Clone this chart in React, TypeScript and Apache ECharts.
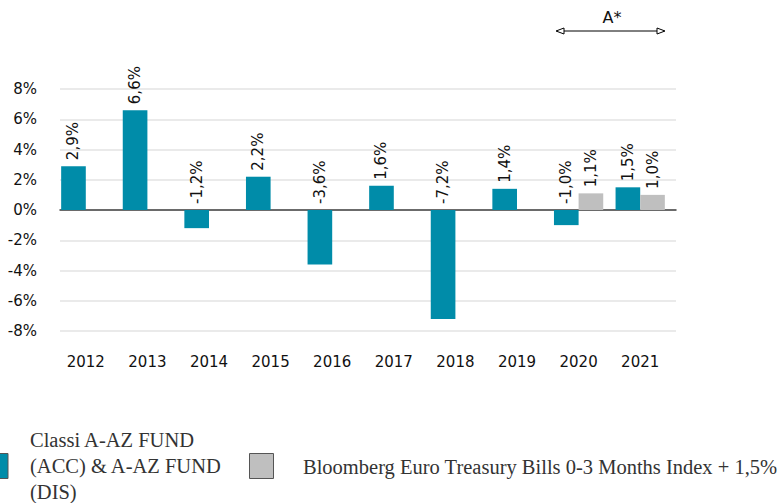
import React, { useEffect, useRef } from "react";
import * as echarts from "echarts";

const years = ["2012", "2013", "2014", "2015", "2016", "2017", "2018", "2019", "2020", "2021"];
const fundValues = [2.9, 6.6, -1.2, 2.2, -3.6, 1.6, -7.2, 1.4, -1.0, 1.5];
const benchValues = [null, null, null, null, null, null, null, null, 1.1, 1.0];
const fundName = ["Classi A-AZ FUND", "(ACC) & A-AZ FUND", "(DIS)"];
const benchName = "Bloomberg Euro Treasury Bills 0-3 Months Index + 1,5%";
const periodLabel = "A*";

const TEAL = "#008CA9";
const GREY = "#BFBFBF";
const FONT = "DejaVu Sans";
const TXT = "#111";

export default function App() {
  const ref = useRef<HTMLDivElement>(null);
  useEffect(() => {
    const chart = echarts.init(ref.current!, null, { renderer: "svg" });
    const fmt = (p: any) => (p.value == null ? "" : p.value.toFixed(1).replace(".", ",") + "%");
    const lbl = {
      show: true,
      position: "top",
      rotate: 90,
      align: "left",
      verticalAlign: "middle",
      distance: 6,
      fontFamily: FONT,
      fontSize: 15,
      color: TXT,
      formatter: fmt,
    };
    chart.setOption({
      animation: false,
      grid: [
        { left: 60, right: 107, top: 89, bottom: 172 },
        { left: 55, right: 112, top: 89, bottom: 172 },
      ],
      xAxis: [
        {
          gridIndex: 0,
          type: "category",
          data: years,
          axisLine: { show: true, onZero: true, lineStyle: { color: "#404040", width: 1.5 } },
          axisTick: { show: false },
          axisLabel: { show: false },
        },
        {
          gridIndex: 1,
          type: "category",
          data: years,
          position: "bottom",
          axisLine: { show: false, onZero: false },
          axisTick: { show: false },
          axisLabel: { fontFamily: FONT, fontSize: 15, color: TXT, margin: 23 },
        },
      ],
      yAxis: [
        {
          gridIndex: 0,
          type: "value",
          min: -8,
          max: 8,
          interval: 2,
          axisLine: { show: false },
          axisTick: { show: false },
          splitLine: { lineStyle: { color: "#e3e3e3", width: 1.5 } },
          axisLabel: {
            fontFamily: FONT,
            fontSize: 15,
            color: TXT,
            margin: 23,
            formatter: (v: number) => v + "%",
          },
        },
        {
          gridIndex: 1,
          type: "value",
          min: -8,
          max: 8,
          interval: 2,
          show: false,
          splitLine: { show: false },
        },
      ],
      series: [
        {
          name: fundName.join(" "),
          type: "bar",
          xAxisIndex: 1,
          yAxisIndex: 1,
          data: fundValues,
          itemStyle: { color: TEAL },
          barGap: "0%",
          barCategoryGap: "20%",
          label: lbl,
          z: 3,
        },
        {
          name: benchName,
          type: "bar",
          xAxisIndex: 1,
          yAxisIndex: 1,
          data: benchValues,
          itemStyle: { color: GREY },
          barGap: "0%",
          barCategoryGap: "20%",
          label: lbl,
          z: 3,
        },
      ],
      graphic: [
        { type: "line", shape: { x1: 557, y1: 31, x2: 664, y2: 31 }, style: { stroke: "#000", lineWidth: 1 } },
        {
          type: "polygon",
          shape: { points: [[556, 31], [564, 28], [564, 34]] },
          style: { fill: "#fff", stroke: "#000", lineWidth: 1 },
        },
        {
          type: "polygon",
          shape: { points: [[665, 31], [657, 28], [657, 34]] },
          style: { fill: "#fff", stroke: "#000", lineWidth: 1 },
        },
        {
          type: "text",
          x: 612,
          y: 17,
          style: { text: periodLabel, fontFamily: FONT, fontSize: 16, fill: TXT, align: "center", verticalAlign: "middle" },
        },
        {
          type: "rect",
          shape: { x: -16, y: 453.5, width: 24, height: 25 },
          style: { fill: TEAL, stroke: "#555", lineWidth: 1 },
        },
        {
          type: "text",
          x: 30,
          y: 466,
          style: {
            text: fundName.join("\n"),
            fontFamily: "Liberation Serif",
            fontSize: 20.5,
            lineHeight: 26,
            fill: "#333",
            align: "left",
            verticalAlign: "middle",
          },
        },
        {
          type: "rect",
          shape: { x: 249.5, y: 453.5, width: 24, height: 25 },
          style: { fill: GREY, stroke: "#555", lineWidth: 1 },
        },
        {
          type: "text",
          x: 303,
          y: 467,
          style: {
            text: benchName,
            fontFamily: "Liberation Serif",
            fontSize: 20.5,
            fill: "#333",
            align: "left",
            verticalAlign: "middle",
          },
        },
      ],
    });
    return () => chart.dispose();
  }, []);
  return <div ref={ref} style={{ width: 783, height: 503, position: "absolute", left: 0, top: 0 }} />;
}
